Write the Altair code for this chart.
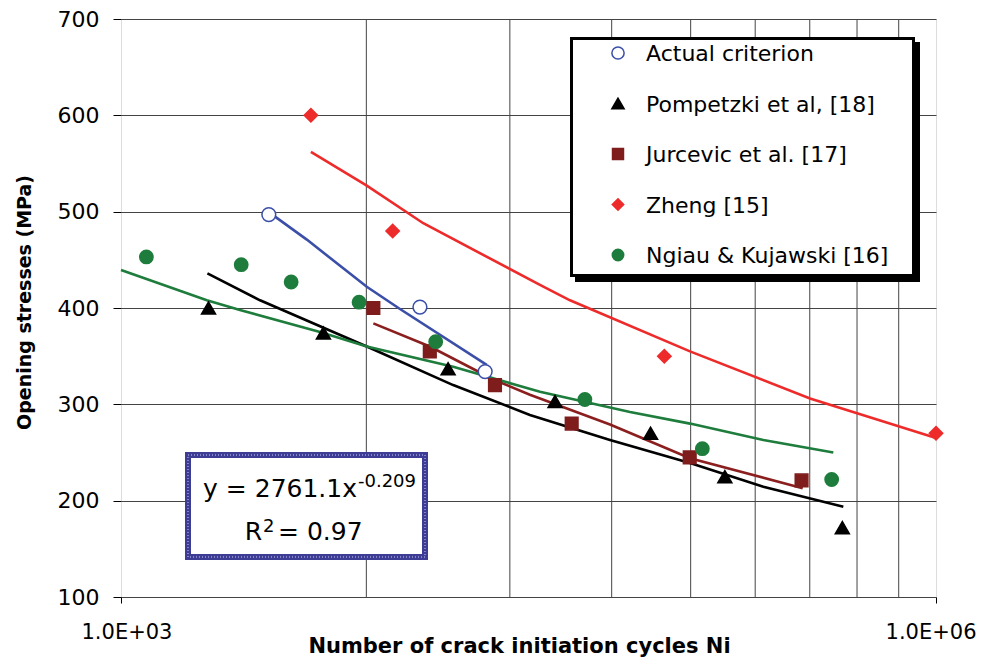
import altair as alt
import pandas as pd

FONT = "DejaVu Sans"

# ---------------- data ----------------
series_names = ["Actual criterion", "Pompetzki et al, [18]", "Jurcevic et al. [17]",
                "Zheng [15]", "Ngiau & Kujawski [16]"]

# measured points (x = crack initiation cycles Ni, y = opening stress MPa)
actual_x = [3500, 12600, 21900]
actual_y = [497, 401, 334]
pomp_x = [2100, 5560, 16000, 39600, 89000, 167000, 452000]
pomp_y = [400, 374, 337, 303, 270, 225, 172]
jurc_x = [8490, 13700, 23800, 45600, 124000, 320000]
jurc_y = [400, 355, 320, 280, 245, 221]
zheng_x = [5000, 10000, 100000, 1000000]
zheng_y = [600, 480, 350, 270]
ngiau_x = [1240, 2770, 4230, 7520, 14400, 51000, 138000, 413000]
ngiau_y = [453, 445, 427, 406, 365, 305, 254, 222]

# fitted curves as drawn
actual_fit_x = [3480, 4830, 8030, 10640, 22190]
actual_fit_y = [500, 471, 422, 399, 341]
pomp_fit_x = [2080, 3250, 8030, 16700, 32000, 63100, 124300, 231400, 455900]
pomp_fit_y = [436, 408, 360, 320, 289, 263, 239, 214.5, 193.7]
jurc_fit_x = [8490, 13700, 23800, 32000, 63100, 124300, 323100]
jurc_fit_y = [384, 360, 325, 310, 279, 244, 213]
zheng_fit_x = [5000, 8030, 12960, 34850, 44950, 124300, 343800, 1000000]
zheng_fit_y = [562, 527, 488, 424, 408, 355, 306, 265]
ngiau_fit_x = [1000, 2070, 2740, 5400, 8030, 16700, 34850, 74750, 124300, 231400, 418800]
ngiau_fit_y = [439.5, 408, 398, 375, 360, 339, 313, 292, 280, 263, 250]

# axes
x_tick_values = [1000, 1000000]
x_tick_labels = ["1.0E+03", "1.0E+06"]
x_grid_values = [8000, 27000, 64000, 125000, 216000, 343000, 512000, 729000]
y_tick_values = [100, 200, 300, 400, 500, 600, 700]

eq_line1 = "y = 2761.1x"
eq_line1_sup = "-0.209"
eq_line2_a = "R"
eq_line2_sup = "2"
eq_line2_b = "= 0.97"

# ---------------- styles ----------------
marker_shapes = ["circle", "triangle-up", "square", "diamond", "circle"]
marker_fills = ["white", "black", "#7f1d1d", "#ee2b2b", "#1e7d3c"]
marker_strokes = ["#3b4fa8", "black", "#7f1d1d", "#ee2b2b", "#1e7d3c"]
marker_sizes = [190, 196, 160, 180, 177]
legend_sizes = [150, 150, 120, 130, 130]
line_colors = ["#3b4fa8", "black", "#8b1f1f", "#ee2b2b", "#1e7d3c"]

pts_x = [actual_x, pomp_x, jurc_x, zheng_x, ngiau_x]
pts_y = [actual_y, pomp_y, jurc_y, zheng_y, ngiau_y]
fit_x = [actual_fit_x, pomp_fit_x, jurc_fit_x, zheng_fit_x, ngiau_fit_x]
fit_y = [actual_fit_y, pomp_fit_y, jurc_fit_y, zheng_fit_y, ngiau_fit_y]

label_expr = " : ".join(
    [f"datum.value == {v} ? '{l}'" for v, l in zip(x_tick_values[:-1], x_tick_labels[:-1])]
    + [f"'{x_tick_labels[-1]}'"]
)

xscale = alt.Scale(type="log", domain=[1000, 1000000], nice=False)
yscale = alt.Scale(domain=[100, 700], nice=False, zero=False)

x_axis = alt.Axis(values=x_tick_values, labelExpr=label_expr, grid=False, domain=False,
                  tickSize=6, tickColor="black", labelFlush=True, labelFlushOffset=40,
                  labelFont=FONT, labelFontSize=21, labelColor="black", labelPadding=18,
                  title="Number of crack initiation cycles Ni", titleFont=FONT,
                  titleFontSize=21, titleFontWeight="bold", titleColor="black",
                  titleX=398, titleY=55, titleAlign="center", titleBaseline="alphabetic")
y_axis = alt.Axis(values=y_tick_values, grid=True, gridColor="#444444", gridWidth=1,
                  domain=False, tickSize=8, tickColor="black",
                  labelFont=FONT, labelFontSize=22, labelColor="black", labelPadding=14,
                  title="Opening stresses (MPa)", titleFont=FONT, titleFontSize=19,
                  titleFontWeight="bold", titleColor="black", titleAngle=270,
                  titleX=-91, titleY=283, titleAlign="center", titleBaseline="alphabetic")

X = alt.X("x:Q", scale=xscale, axis=x_axis)
Y = alt.Y("y:Q", scale=yscale, axis=y_axis)

# ---------------- tables ----------------
pts_rows, fit_rows = [], []
for s, xs, ys in zip(series_names, pts_x, pts_y):
    for a, b in zip(xs, ys):
        pts_rows.append({"series": s, "x": a, "y": b})
for s, xs, ys in zip(series_names, fit_x, fit_y):
    for i, (a, b) in enumerate(zip(xs, ys)):
        fit_rows.append({"series": s, "x": a, "y": b, "idx": i})
pts_df = pd.DataFrame(pts_rows)
fit_df = pd.DataFrame(fit_rows)
grid_df = pd.DataFrame({"x": x_grid_values})
anno = alt.Chart(pd.DataFrame({"a": [0]}))

# ---------------- layers ----------------
vgrid = alt.Chart(grid_df).mark_rule(color="#444444", strokeWidth=1).encode(x=X)

shadow = anno.mark_rect(fill="black", stroke="black", strokeWidth=3).encode(
    x=alt.value(455.5), x2=alt.value(797.5), y=alt.value(24.5), y2=alt.value(261.5))
lbox = anno.mark_rect(fill="white", stroke="black", strokeWidth=3).encode(
    x=alt.value(450.5), x2=alt.value(792.5), y=alt.value(19.5), y2=alt.value(256.5))

lines = alt.Chart(fit_df).mark_line(strokeWidth=2.6).encode(
    x=X, y=Y,
    color=alt.Color("series:N", scale=alt.Scale(domain=series_names, range=line_colors), legend=None),
    order="idx:Q")

pt_layers = []
for s, shp, fl, st, sz in zip(series_names, marker_shapes, marker_fills, marker_strokes, marker_sizes):
    pt_layers.append(
        alt.Chart(pts_df).transform_filter(alt.datum.series == s)
        .mark_point(filled=True, opacity=1, fillOpacity=1, strokeWidth=1.5, size=sz,
                    shape=shp, fill=fl, stroke=st)
        .encode(x=X, y=Y)
    )

# legend (drawn manually inside the boxed area)
leg_layers = []
for i, (s, shp, fl, st, sz) in enumerate(zip(series_names, marker_shapes, marker_fills,
                                              marker_strokes, legend_sizes)):
    ly = 34 + 50.5 * i
    leg_layers.append(anno.mark_point(filled=True, opacity=1, strokeWidth=1.5, size=sz,
                                      shape=shp, fill=fl, stroke=st)
                      .encode(x=alt.value(497), y=alt.value(ly)))
    leg_layers.append(anno.mark_text(align="left", baseline="middle", font=FONT, fontSize=22,
                                     color="black")
                      .encode(x=alt.value(525), y=alt.value(ly + 1), text=alt.value(s)))

eq_box = anno.mark_rect(fill="white", stroke="#3d3d96", strokeWidth=6).encode(
    x=alt.value(67), x2=alt.value(304), y=alt.value(436), y2=alt.value(538))
eq_tex = anno.mark_rect(fillOpacity=0, stroke="#9c9cd8", strokeWidth=1.5, strokeDash=[1, 2]).encode(
    x=alt.value(67), x2=alt.value(304), y=alt.value(436), y2=alt.value(538))

def txt(s, x, y, size, align):
    return anno.mark_text(align=align, baseline="alphabetic", font=FONT, fontSize=size,
                          color="black").encode(x=alt.value(x), y=alt.value(y), text=alt.value(s))

texts = [
    txt(eq_line1, 236, 478, 25, "right"),
    txt(eq_line1_sup, 237, 468, 18, "left"),
    txt(eq_line2_a, 141, 521, 25, "right"),
    txt(eq_line2_sup, 142, 513, 18, "left"),
    txt(eq_line2_b, 157, 521, 25, "left"),
]

chart = alt.layer(vgrid, shadow, lbox, lines, *pt_layers, *leg_layers, eq_box, eq_tex, *texts).properties(
    width=815, height=578,
    padding={"left": 113, "top": 11, "right": 41, "bottom": 61},
    autosize=alt.AutoSizeParams(type="none"),
).configure_view(stroke="black", strokeWidth=3).configure(font=FONT, background="white")

chart.save("out.html", embed_options={"renderer": "svg", "actions": False})
